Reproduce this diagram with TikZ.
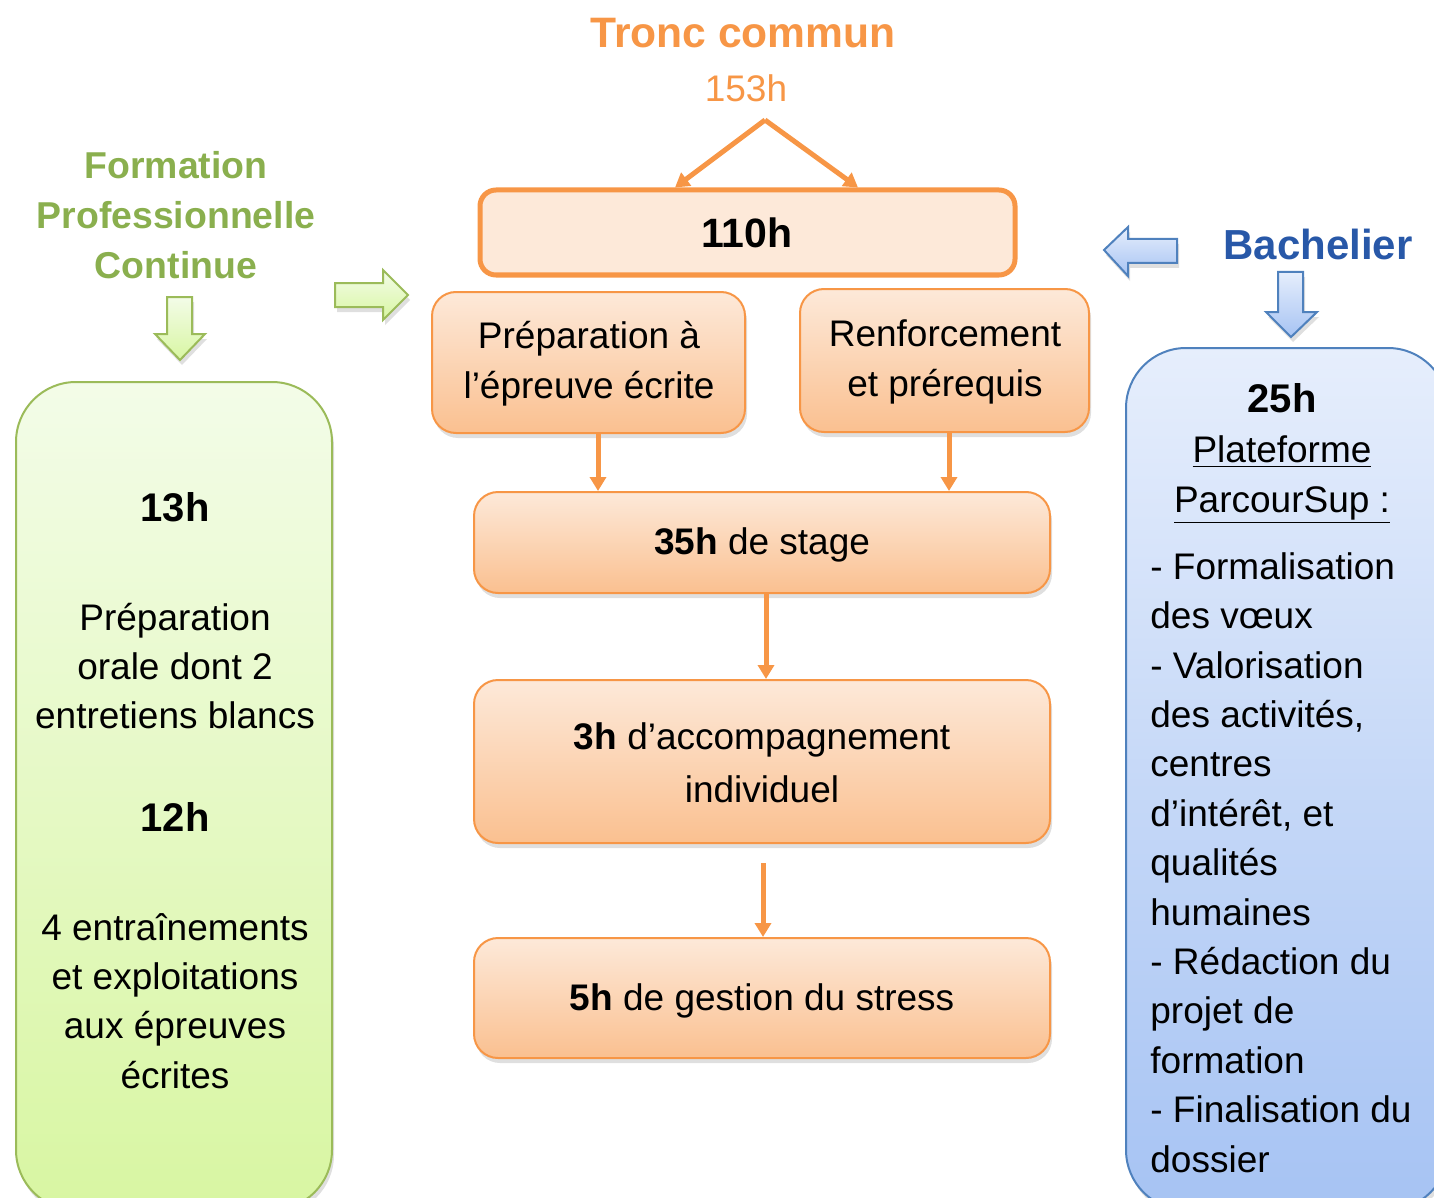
\documentclass[tikz,border=0pt]{standalone}
\usepackage{fontspec}
\setmainfont{Liberation Sans}
\usetikzlibrary{arrows.meta,fit,shadows}
\definecolor{orng}{HTML}{F79646}
\definecolor{olight}{HTML}{FDE9D9}
\definecolor{odark}{HTML}{FAC090}
\definecolor{gline}{HTML}{9BBB59}
\definecolor{gtop}{HTML}{F3FCE8}
\definecolor{gbot}{HTML}{D8F6A2}
\definecolor{gtext}{HTML}{8AAF4E}
\definecolor{bline}{HTML}{4F81BD}
\definecolor{btop}{HTML}{E6EEFC}
\definecolor{bbot}{HTML}{A6C3F3}
\definecolor{btext}{HTML}{2858A8}
\begin{document}
\begin{tikzpicture}[x=0.5pt,y=-0.5pt,
  ftxt/.style={font=\fontsize{18.5}{25}\selectfont},
  softshadow/.style={drop shadow={opacity=0.25, shadow xshift=1pt, shadow yshift=-2.5pt}},
  cbox/.style={draw=orng, line width=1pt, rounded corners=12pt, top color=olight, bottom color=odark, inner sep=0pt, softshadow},
  ctext/.style={align=center, ftxt, inner sep=0pt},
  oarrow/.style={draw=orng, line width=2.5pt, -{Triangle[length=7pt,width=8pt]}},
  garrow/.style={draw=gline, line width=1pt, top color=gtop, bottom color=gbot, softshadow},
  barrow/.style={draw=bline, line width=1pt, top color=btop, bottom color=bbot, softshadow},
]
\useasboundingbox (0,0) rectangle (1434,1198);
\clip (0,0) rectangle (1434,1198);

% ---------- centre ----------
\node[font=\bfseries\fontsize{21.3}{26}\selectfont, text=orng] (tc) at (743,33) {Tronc commun};
\node[ftxt, text=orng] (h153) at (746,88) {153h};
\coordinate (apex) at (765,120);
\coordinate (l1) at (675,0);
\coordinate (l2) at (858,0);

\node[draw=orng, line width=2.5pt, fill=olight, rounded corners=8pt, inner sep=0pt,
      fit={(480,190) (1015,275)}] (b110) {};
\node[font=\bfseries\fontsize{20.5}{25}\selectfont] (t110) at (747,233) {110h};

\node[cbox, fit={(432,292) (745,433)}] (prep) {};
\node[ctext] (tprep) at (589,364) {Préparation à\\l’épreuve écrite};
\node[cbox, fit={(800,289) (1089,432)}] (renf) {};
\node[ctext] (trenf) at (945,362) {Renforcement\\et prérequis};
\node[cbox, fit={(474,492) (1050,593)}] (stage) {};
\node[ctext] (tstage) at (762,545) {\textbf{35h} de stage};
\node[cbox, fit={(474,680) (1050,843)}] (acc) {};
\node[ctext, font=\fontsize{18.5}{26.5}\selectfont] (tacc) at (762,763) {\textbf{3h} d’accompagnement\\individuel};
\node[cbox, fit={(474,938) (1050,1058)}] (stress) {};
\node[ctext] (tstress) at (762,1001) {\textbf{5h} de gestion du stress};

\coordinate (a1) at (598,0);
\coordinate (a2) at (949,0);
\coordinate (a3) at (766,0);
\coordinate (a4) at (763,0);

\draw[oarrow] (apex) -- (b110.north -| l1);
\draw[oarrow] (apex) -- (b110.north -| l2);
\draw[oarrow] (prep.south -| a1) -- (stage.north -| a1);
\draw[oarrow] (renf.south -| a2) -- (stage.north -| a2);
\draw[oarrow] (stage.south -| a3) -- (acc.north -| a3);
\draw[oarrow] ([yshift=-9.5pt]acc.south -| a4) -- (stress.north -| a4);

% ---------- left : Formation Professionnelle Continue ----------
\node[font=\bfseries\fontsize{18.7}{25}\selectfont, text=gtext, align=center] (fpc) at (176,215)
  {Formation\\Professionnelle\\Continue};
\draw[garrow] (167,297) -- (192,297) -- (192,334) -- (205,334) -- (180,360) -- (155,334) -- (167,334) -- cycle;
\draw[garrow] (335,283) -- (383,283) -- (383,270) -- (408,295) -- (383,320) -- (383,307) -- (335,307) -- cycle;

\node[draw=gline, line width=1pt, rounded corners=30pt, top color=gtop, bottom color=gbot,
      inner sep=0pt, fit={(16,382) (332,1210)}, softshadow] (pfcbox) {};
\node[font=\bfseries\fontsize{20}{25}\selectfont] (h13) at (175,507) {13h};
\node[align=center, font=\fontsize{18.5}{24.5}\selectfont] (oral) at (175,666)
  {Préparation\\orale dont 2\\entretiens blancs};
\node[font=\bfseries\fontsize{20}{25}\selectfont] (h12) at (175,817) {12h};
\node[align=center, font=\fontsize{18.5}{24.7}\selectfont] (ecr) at (175,1001)
  {4 entraînements\\et exploitations\\aux épreuves\\écrites};

% ---------- right : Bachelier ----------
\node[font=\bfseries\fontsize{21}{26}\selectfont, text=btext] (bach) at (1318,244) {Bachelier};
\draw[barrow] (1104,250) -- (1128,227) -- (1128,239) -- (1177,239) -- (1177,263) -- (1128,263) -- (1128,276) -- cycle;
\draw[barrow] (1278,272) -- (1303,272) -- (1303,312) -- (1317,312) -- (1291,337) -- (1266,312) -- (1278,312) -- cycle;

\node[draw=bline, line width=1pt, rounded corners=30pt, top color=btop, bottom color=bbot,
      inner sep=0pt, fit={(1126,348) (1448,1210)}, softshadow] (bachbox) {};
\node[font=\bfseries\fontsize{20}{25}\selectfont] (h25) at (1282,398) {25h};
\node[align=center, font=\fontsize{18.5}{24.7}\selectfont] (pfs) at (1282,480)
  {\underline{Plateforme}\\\underline{ParcourSup :}};
\node[align=left, anchor=north west, inner sep=0pt, font=\fontsize{18.5}{24.7}\selectfont] (list) at (1150,552)
  {- Formalisation\\des vœux\\- Valorisation\\des activités,\\centres\\d’intérêt, et\\qualités\\humaines\\- Rédaction du\\projet de\\formation\\- Finalisation du\\dossier};
\end{tikzpicture}
\end{document}
